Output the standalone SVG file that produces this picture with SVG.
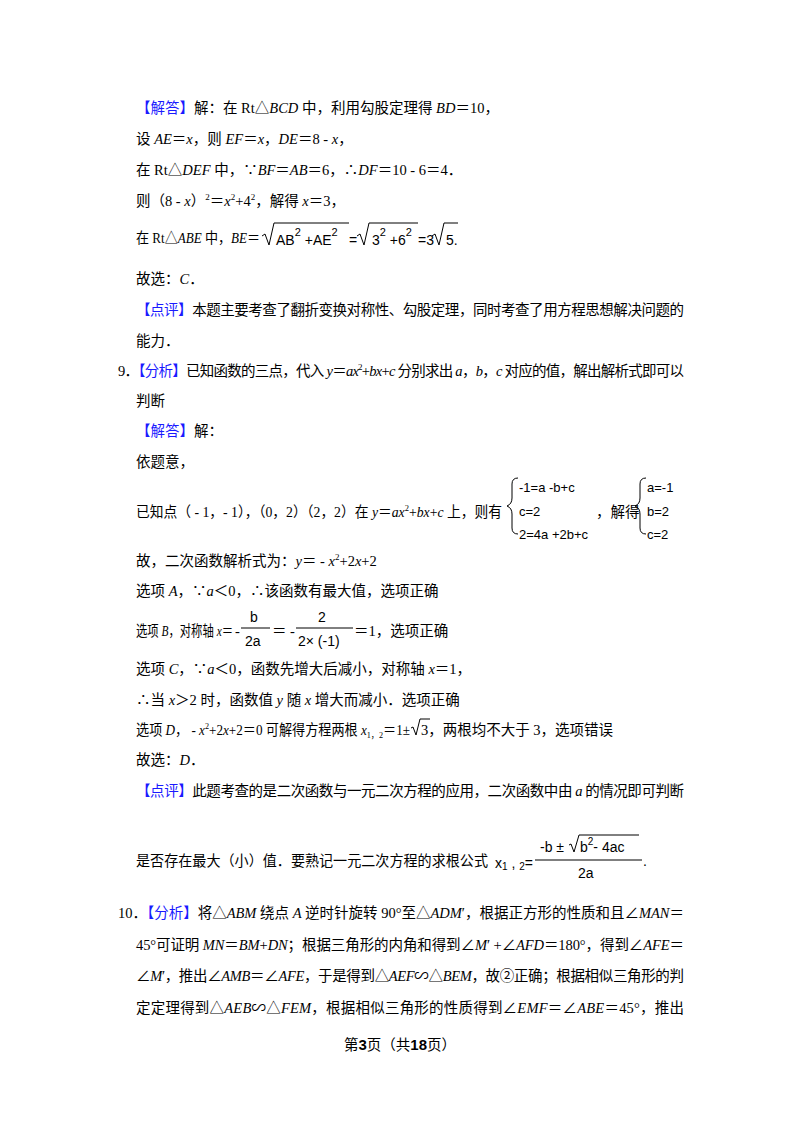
<svg xmlns="http://www.w3.org/2000/svg" width="800" height="1132" viewBox="0 0 800 1132">
<style>
text{font-family:"Liberation Serif","Noto Sans CJK SC",serif;font-size:14.5px;fill:#000}
.b{fill:#1a1aff}
.i{font-style:italic}
.m{font-family:"Liberation Sans","Noto Sans CJK SC",sans-serif;font-size:14px}
.s{font-size:9px}
.ln{fill:none;stroke:#000;stroke-width:1}
.f{font-family:"Liberation Sans","Noto Sans CJK SC",sans-serif;font-size:13px}
</style>
<rect width="800" height="1132" fill="#fff"/>
<g id="text">
<text x="136" y="113"><tspan class="b">【解答】</tspan>解：在 Rt△<tspan class="i">BCD</tspan> 中，利用勾股定理得 <tspan class="i">BD</tspan>＝10，</text>
<text x="136" y="144">设 <tspan class="i">AE</tspan>＝<tspan class="i">x</tspan>，则 <tspan class="i">EF</tspan>＝<tspan class="i">x</tspan>，<tspan class="i">DE</tspan>＝8 - <tspan class="i">x</tspan>，</text>
<text x="136" y="175">在 Rt△<tspan class="i">DEF</tspan> 中，∵<tspan class="i">BF</tspan>＝<tspan class="i">AB</tspan>＝6，∴<tspan class="i">DF</tspan>＝10 - 6＝4．</text>
<text x="136" y="206">则（8 - <tspan class="i">x</tspan>）<tspan class="s" dy="-6">2</tspan><tspan dy="6">＝</tspan><tspan class="i">x</tspan><tspan class="s" dy="-6">2</tspan><tspan dy="6">+4</tspan><tspan class="s" dy="-6">2</tspan><tspan dy="6">，解得 </tspan><tspan class="i">x</tspan>＝3，</text>
<text x="136" y="243" textLength="124" lengthAdjust="spacingAndGlyphs">在 Rt△<tspan class="i">ABE</tspan> 中，<tspan class="i">BE</tspan>＝</text>
<path class="ln" d="M262,236 l3,-2 4,11 5,-22 h75"/>
<text class="m" x="276" y="245">AB<tspan dy="-9" font-size="11">2</tspan><tspan dy="9"> +AE</tspan><tspan dy="-9" font-size="11">2</tspan></text>
<text class="m" x="349" y="245">=</text>
<path class="ln" d="M357,236 l3,-2 4,11 5,-22 h49"/>
<text class="m" x="372" y="245">3<tspan dy="-9" font-size="11">2</tspan><tspan dy="9"> +6</tspan><tspan dy="-9" font-size="11">2</tspan></text>
<text class="m" x="418" y="245">=3</text>
<path class="ln" d="M432,236 l3,-2 4,11 5,-22 h14"/>
<text class="m" x="446" y="245">5.</text>
<text x="136" y="284">故选：<tspan class="i">C</tspan>．</text>
<text x="136" y="315" textLength="548" lengthAdjust="spacing"><tspan class="b">【点评】</tspan>本题主要考查了翻折变换对称性、勾股定理，同时考查了用方程思想解决问题的</text>
<text x="136" y="346">能力．</text>
<text x="118" y="376" textLength="566" lengthAdjust="spacing">9．<tspan class="b">【分析】</tspan>已知函数的三点，代入 <tspan class="i">y</tspan>＝<tspan class="i">ax</tspan><tspan class="s" dy="-6">2</tspan><tspan dy="6">+</tspan><tspan class="i">bx</tspan>+<tspan class="i">c</tspan> 分别求出 <tspan class="i">a</tspan>，<tspan class="i">b</tspan>，<tspan class="i">c</tspan> 对应的值，解出解析式即可以</text>
<text x="136" y="406">判断</text>
<text x="136" y="436"><tspan class="b">【解答】</tspan>解：</text>
<text x="136" y="467">依题意，</text>
<text x="136" y="517" textLength="366" lengthAdjust="spacingAndGlyphs">已知点（ - 1，- 1），（0，2）（2，2）在 <tspan class="i">y</tspan>＝<tspan class="i">ax</tspan><tspan class="s" dy="-6">2</tspan><tspan dy="6">+</tspan><tspan class="i">bx</tspan>+<tspan class="i">c</tspan> 上，则有</text>
<path class="ln" d="M518,478 q-6,0 -6,6 v14 q0,6 -5,8 q5,2 5,8 v14 q0,6 6,6"/>
<text class="f" x="519" y="492">-1=a -b+c</text>
<text class="f" x="519" y="516">c=2</text>
<text class="f" x="519" y="539">2=4a +2b+c</text>
<text x="596" y="517">，解得</text>
<path class="ln" d="M646,478 q-6,0 -6,6 v14 q0,6 -5,8 q5,2 5,8 v14 q0,6 6,6"/>
<text class="f" x="647" y="492">a=-1</text>
<text class="f" x="647" y="516">b=2</text>
<text class="f" x="647" y="539">c=2</text>
<text x="136" y="566">故，二次函数解析式为：<tspan class="i">y</tspan>＝ - <tspan class="i">x</tspan><tspan class="s" dy="-6">2</tspan><tspan dy="6">+2</tspan><tspan class="i">x</tspan>+2</text>
<text x="136" y="596">选项 <tspan class="i">A</tspan>，∵<tspan class="i">a</tspan>＜0，∴该函数有最大值，选项正确</text>
<text x="136" y="636" textLength="97" lengthAdjust="spacingAndGlyphs">选项 <tspan class="i">B</tspan>，对称轴 <tspan class="i">x</tspan>＝</text>
<text x="235" y="636">-</text>
<text class="m" x="250" y="622">b</text>
<path class="ln" d="M241,628 h29"/>
<text class="m" x="245" y="646">2a</text>
<text x="272" y="636">＝ -</text>
<path class="ln" d="M296,628 h57"/>
<text class="m" x="318" y="622">2</text>
<text class="m" x="298" y="646">2× (-1)</text>
<text x="354" y="636">＝1，选项正确</text>
<text x="136" y="674">选项 <tspan class="i">C</tspan>，∵<tspan class="i">a</tspan>＜0，函数先增大后减小，对称轴 <tspan class="i">x</tspan>＝1，</text>
<text x="136" y="705">∴当 <tspan class="i">x</tspan>＞2 时，函数值 <tspan class="i">y</tspan> 随 <tspan class="i">x</tspan> 增大而减小．选项正确</text>
<text x="136" y="735" textLength="274" lengthAdjust="spacingAndGlyphs">选项 <tspan class="i">D</tspan>， - <tspan class="i">x</tspan><tspan class="s" dy="-6">2</tspan><tspan dy="6">+2</tspan><tspan class="i">x</tspan>+2＝0 可解得方程两根 <tspan class="i">x</tspan><tspan class="s" dy="3">1，2</tspan><tspan dy="-3">＝1±</tspan></text>
<path class="ln" d="M411,728 l2,-1 3,8 4,-16 h10"/>
<text x="421" y="735">3，两根均不大于 3，选项错误</text>
<text x="136" y="765">故选：<tspan class="i">D</tspan>．</text>
<text x="136" y="796" textLength="548" lengthAdjust="spacing"><tspan class="b">【点评】</tspan>此题考查的是二次函数与一元二次方程的应用，二次函数中由 <tspan class="i">a</tspan> 的情况即可判断</text>
<text x="136" y="866" textLength="352" lengthAdjust="spacingAndGlyphs">是否存在最大（小）值．要熟记一元二次方程的求根公式</text>
<text class="m" x="495" y="868">x<tspan font-size="10" dy="2">1</tspan><tspan dy="-2"> , </tspan><tspan font-size="10" dy="2">2</tspan><tspan dy="-2">=</tspan></text>
<path class="ln" d="M535,860 h107"/>
<text class="m" x="540" y="852">-b ±</text>
<path class="ln" d="M569,845 l2,-1 3,8 5,-17 h60"/>
<text class="m" x="580" y="852">b<tspan font-size="10" dy="-7">2</tspan><tspan dy="7">- 4ac</tspan></text>
<text class="m" x="578" y="878">2a</text>
<text class="m" x="643" y="866">.</text>
<text x="118" y="918" textLength="566" lengthAdjust="spacing">10．<tspan class="b">【分析】</tspan>将△<tspan class="i">ABM</tspan> 绕点 <tspan class="i">A</tspan> 逆时针旋转 90°至△<tspan class="i">ADM</tspan>′，根据正方形的性质和且∠<tspan class="i">MAN</tspan>＝</text>
<text x="136" y="950" textLength="548" lengthAdjust="spacing">45°可证明 <tspan class="i">MN</tspan>＝<tspan class="i">BM</tspan>+<tspan class="i">DN</tspan>；根据三角形的内角和得到∠<tspan class="i">M</tspan>′ +∠<tspan class="i">AFD</tspan>＝180°，得到∠<tspan class="i">AFE</tspan>＝</text>
<text x="136" y="981" textLength="548" lengthAdjust="spacing">∠<tspan class="i">M</tspan>′，推出∠<tspan class="i">AMB</tspan>＝∠<tspan class="i">AFE</tspan>，于是得到△<tspan class="i">AEF</tspan>∽△<tspan class="i">BEM</tspan>，故②正确；根据相似三角形的判</text>
<text x="136" y="1013" textLength="548" lengthAdjust="spacing">定定理得到△<tspan class="i">AEB</tspan>∽△<tspan class="i">FEM</tspan>，根据相似三角形的性质得到∠<tspan class="i">EMF</tspan>＝∠<tspan class="i">ABE</tspan>＝45°，推出</text>
<text x="400" y="1050" text-anchor="middle" font-size="13">第<tspan font-weight="bold" font-family="Liberation Sans" font-size="15">3</tspan>页（共<tspan font-weight="bold" font-family="Liberation Sans" font-size="15">18</tspan>页）</text>
</g>
</svg>
